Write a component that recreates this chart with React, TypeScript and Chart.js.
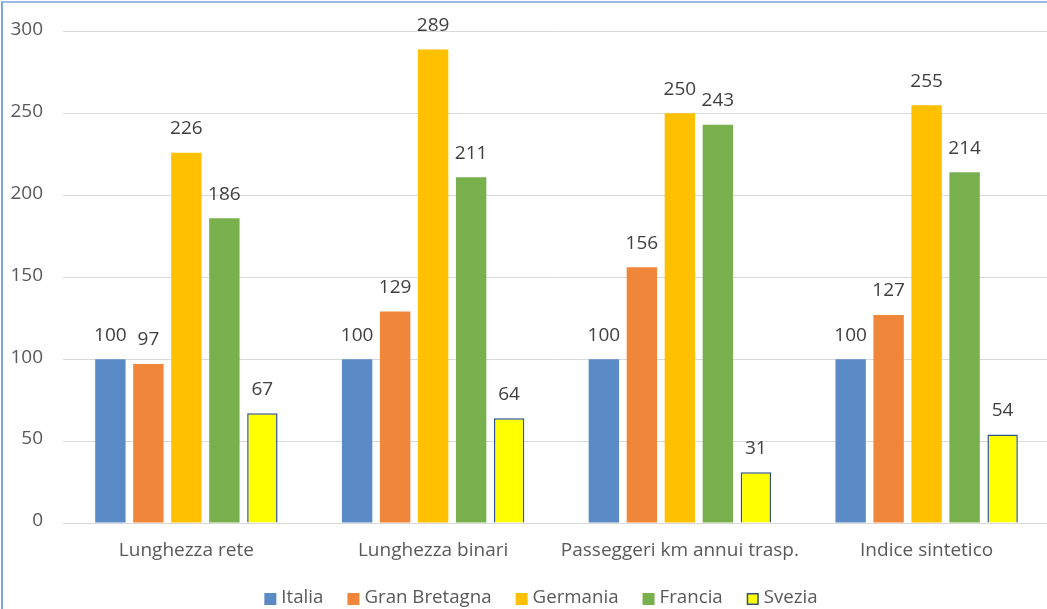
import { useEffect, useRef } from "react";
import { Chart, registerables } from "chart.js";

Chart.register(...registerables);

// Indici (Italia = 100)
const categories = [
  "Lunghezza rete",
  "Lunghezza binari",
  "Passeggeri km annui trasp.",
  "Indice sintetico",
];
const italia = [100, 100, 100, 100];
const granBretagna = [97, 129, 156, 127];
const germania = [226, 289, 250, 255];
const francia = [186, 211, 243, 214];
const svezia = [67, 64, 31, 54];

const seriesNames = ["Italia", "Gran Bretagna", "Germania", "Francia", "Svezia"];
const seriesColors = ["#5B8BC6", "#EF863A", "#FFC000", "#78B04E", "#FFFF00"];
const seriesBorders = [null, null, null, null, "#2F528F"];

const yMin = 0;
const yMax = 300;
const yStep = 50;

const FONT = "'Open Sans', 'Noto Sans', sans-serif";
const W = 1080;
const H = 625;

// Value labels above each bar
const valueLabels = {
  id: "valueLabels",
  afterDatasetsDraw(chart: any) {
    const ctx = chart.ctx;
    ctx.save();
    ctx.font = `19px ${FONT}`;
    ctx.fillStyle = "#404040";
    ctx.textAlign = "center";
    ctx.textBaseline = "middle";
    chart.data.datasets.forEach((ds: any, i: number) => {
      const meta = chart.getDatasetMeta(i);
      meta.data.forEach((el: any, j: number) => {
        ctx.fillText(String(ds.data[j]), el.x, el.y - 24);
      });
    });
    ctx.restore();
  },
};

// Legend row under the axis labels
const bottomLegend = {
  id: "bottomLegend",
  afterDraw(chart: any) {
    const ctx = chart.ctx;
    const box = 12;
    const gapText = 5;
    const gapItem = 24;
    const cy = 599;
    ctx.save();
    ctx.font = `18.7px ${FONT}`;
    ctx.textBaseline = "middle";
    ctx.textAlign = "left";
    const items = chart.data.datasets.map((ds: any) => ({
      label: ds.label,
      fill: ds.backgroundColor,
      stroke: ds.borderColor,
      w: ctx.measureText(ds.label).width,
    }));
    const total =
      items.reduce((s: number, it: any) => s + box + gapText + it.w, 0) +
      gapItem * (items.length - 1);
    let x = chart.width / 2 + 1 - total / 2;
    items.forEach((it: any) => {
      ctx.fillStyle = it.fill;
      ctx.fillRect(x, cy - box / 2, box, box);
      if (it.stroke) {
        ctx.strokeStyle = it.stroke;
        ctx.lineWidth = 1.5;
        ctx.strokeRect(x + 0.75, cy - box / 2 + 0.75, box - 1.5, box - 1.5);
      }
      ctx.fillStyle = "#595959";
      ctx.fillText(it.label, x + box + gapText, cy - 1);
      x += box + gapText + it.w + gapItem;
    });
    ctx.restore();
  },
};

export default function App() {
  const canvasRef = useRef<HTMLCanvasElement | null>(null);

  useEffect(() => {
    const canvas = canvasRef.current;
    if (!canvas) return;
    const data = [italia, granBretagna, germania, francia, svezia];
    const chart = new Chart(canvas, {
      type: "bar",
      data: {
        labels: categories,
        datasets: data.map((values, i) => ({
          label: seriesNames[i],
          data: values,
          backgroundColor: seriesColors[i],
          borderColor: seriesBorders[i] ?? undefined,
          borderWidth: seriesBorders[i] ? 1.5 : 0,
          categoryPercentage: 0.77,
          barPercentage: 0.8,
        })),
      },
      options: {
        responsive: false,
        animation: false,
        devicePixelRatio: 1,
        layout: { padding: { top: 27, right: 30, bottom: 62, left: 0 } },
        plugins: {
          legend: { display: false },
          tooltip: { enabled: false },
        },
        scales: {
          x: {
            grid: { display: false, drawTicks: false },
            border: { display: false },
            ticks: {
              color: "#595959",
              font: { family: FONT, size: 19 },
              padding: 16,
              maxRotation: 0,
              autoSkip: false,
            },
            afterFit(scale: any) {
              scale.height = 40;
            },
          },
          y: {
            min: yMin,
            max: yMax,
            grid: { color: "#D9D9D9", lineWidth: 1, drawTicks: false },
            border: { display: false },
            ticks: {
              stepSize: yStep,
              color: "#595959",
              font: { family: FONT, size: 19 },
              padding: 20,
              labelOffset: -2,
            },
            afterFit(scale: any) {
              scale.width = 63;
            },
          },
        },
      },
      plugins: [valueLabels, bottomLegend],
    });
    return () => chart.destroy();
  }, []);

  return (
    <div
      style={{
        position: "fixed",
        left: 0,
        top: 0,
        width: 1047,
        height: 609,
        overflow: "hidden",
        background: "#ffffff",
      }}
    >
      <canvas
        ref={canvasRef}
        width={W}
        height={H}
        style={{ position: "absolute", left: 0, top: 0, width: W, height: H }}
      />
      <div
        style={{
          position: "absolute",
          left: 1,
          top: 1,
          width: 2000,
          height: 2000,
          borderLeft: "2px solid #7FA6DE",
          borderTop: "2px solid #9CBBE6",
          pointerEvents: "none",
        }}
      />
    </div>
  );
}
